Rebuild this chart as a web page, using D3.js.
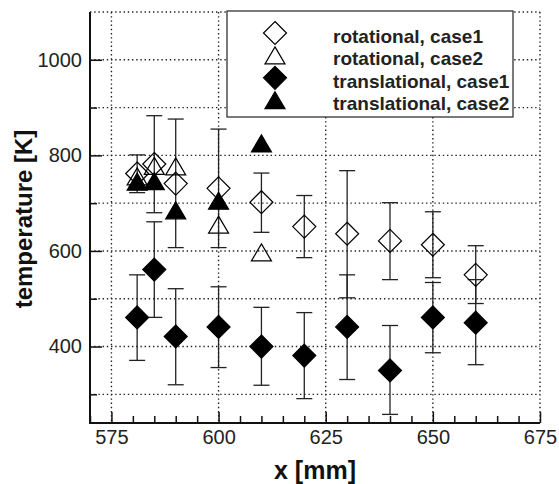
<!DOCTYPE html>
<html>
<head>
<meta charset="utf-8">
<script src="https://cdn.jsdelivr.net/npm/d3@7"></script>
<style>
  html, body { margin: 0; padding: 0; background: #fff; }
  svg { display: block; font-family: "Liberation Sans", Arial, sans-serif; }
  .tick text { fill: #222; }
</style>
</head>
<body>
<div class="chart"></div>
<script>
// x positions [mm]
var xPos = [581, 585, 590, 600, 610, 620, 630, 640, 650, 660];
var xPosCase2 = [581, 585, 590, 600, 610];

// rotational, case1 (with error bars)
var rotCase1 = [762, 782, 741, 731, 702, 651, 636, 621, 613, 550];
var rotCase1Lo = [722, 680, 607, 607, 639, 586, 502, 540, 544, 490];
var rotCase1Hi = [801, 883, 876, 855, 763, 716, 768, 701, 682, 611];

// rotational, case2
var rotCase2 = [756, 778, 777, 655, 597];

// translational, case1 (with error bars)
var transCase1 = [461, 561, 421, 441, 400, 381, 441, 350, 461, 450];
var transCase1Lo = [371, 461, 320, 356, 319, 291, 331, 258, 387, 362];
var transCase1Hi = [550, 661, 521, 525, 482, 471, 550, 444, 534, 540];

// translational, case2
var transCase2 = [745, 746, 685, 705, 825];

// axes
var xTicks = [575, 600, 625, 650, 675];
var yTicks = [400, 600, 800, 1000];
var yMinorTicks = [300, 500, 700, 900, 1100];
var legendLabels = ['rotational, case1', 'rotational, case2', 'translational, case1', 'translational, case2'];

var width = 559, height = 484;
var margin = { left: 90, top: 12, right: 19, bottom: 61 };
var plotW = width - margin.left - margin.right;
var plotH = height - margin.top - margin.bottom;

var x = d3.scaleLinear().domain([570, 675]).range([0, plotW]);
var y = d3.scaleLinear().domain([240, 1100]).range([plotH, 0]);

var svg = d3.select('.chart')
    .append('svg')
    .attr('width', width)
    .attr('height', height);

var g = svg.append('g')
    .attr('transform', 'translate(' + margin.left + ',' + margin.top + ')');

// dotted grid
var grid = g.append('g').attr('class', 'grid');
grid.selectAll('line.gx')
    .data(xTicks)
    .enter()
    .append('line')
    .attr('x1', function (d) { return x(d); })
    .attr('x2', function (d) { return x(d); })
    .attr('y1', 0)
    .attr('y2', plotH);
grid.selectAll('line.gy')
    .data(yTicks.concat(yMinorTicks))
    .enter()
    .append('line')
    .attr('x1', 0)
    .attr('x2', plotW)
    .attr('y1', function (d) { return y(d); })
    .attr('y2', function (d) { return y(d); });
grid.selectAll('line')
    .attr('stroke', '#222')
    .attr('stroke-width', 1.4)
    .attr('stroke-dasharray', '1.4 2.8');

// axes with inward ticks
var xMinor = d3.range(570, 676, 5).filter(function (d) { return xTicks.indexOf(d) < 0; });

var xAxis = g.append('g')
    .attr('transform', 'translate(0,' + plotH + ')')
    .call(d3.axisBottom(x).tickValues(xTicks).tickFormat(d3.format('d')).tickSizeInner(-11).tickSizeOuter(0));
xAxis.select('.domain').remove();
xAxis.selectAll('text').attr('font-size', 20).attr('dy', '0.71em').attr('y', 7);

var xAxisMinor = g.append('g')
    .attr('transform', 'translate(0,' + plotH + ')')
    .call(d3.axisBottom(x).tickValues(xMinor).tickSizeInner(-7).tickSizeOuter(0).tickFormat(''));
xAxisMinor.select('.domain').remove();

var yAxis = g.append('g')
    .call(d3.axisLeft(y).tickValues(yTicks).tickFormat(d3.format('d')).tickSizeInner(-12).tickSizeOuter(0).tickPadding(8));
yAxis.select('.domain').remove();
yAxis.selectAll('text').attr('font-size', 20);

var yAxisMinor = g.append('g')
    .call(d3.axisLeft(y).tickValues(yMinorTicks.slice(0, 4)).tickSizeInner(-7).tickSizeOuter(0).tickFormat(''));
yAxisMinor.select('.domain').remove();

g.selectAll('.tick line').attr('stroke', '#111').attr('stroke-width', 1.5);

// axis lines (left and bottom only)
g.append('line')
    .attr('x1', 0).attr('x2', 0).attr('y1', 0).attr('y2', plotH)
    .attr('stroke', '#111').attr('stroke-width', 2);
g.append('line')
    .attr('x1', -1).attr('x2', plotW).attr('y1', plotH).attr('y2', plotH)
    .attr('stroke', '#111').attr('stroke-width', 2);

// axis titles
svg.append('text')
    .attr('x', margin.left + plotW / 2)
    .attr('y', 479)
    .attr('text-anchor', 'middle')
    .attr('font-size', 25)
    .attr('font-weight', 'bold')
    .attr('fill', '#111')
    .text('x [mm]');

svg.append('text')
    .attr('transform', 'translate(32,' + 219 + ') rotate(-90)')
    .attr('text-anchor', 'middle')
    .attr('font-size', 24)
    .attr('font-weight', 'bold')
    .attr('fill', '#111')
    .text('temperature [K]');

// marker shapes
function diamond(r) {
    return 'M0,' + (-r) + 'L' + r + ',0L0,' + r + 'L' + (-r) + ',0Z';
}
function triangle(w, h) {
    return 'M0,' + (-h / 2) + 'L' + (w / 2) + ',' + (h / 2) + 'L' + (-w / 2) + ',' + (h / 2) + 'Z';
}
var diamondPath = diamond(11.5);
var trianglePath = triangle(20, 17);

function errorBars(xs, lo, hi) {
    var eb = g.append('g').attr('stroke', '#222').attr('stroke-width', 1.3);
    eb.selectAll('line.v')
        .data(xs)
        .enter()
        .append('line')
        .attr('x1', function (d) { return x(d); })
        .attr('x2', function (d) { return x(d); })
        .attr('y1', function (d, i) { return y(lo[i]); })
        .attr('y2', function (d, i) { return y(hi[i]); });
    [lo, hi].forEach(function (arr) {
        eb.selectAll(null)
            .data(xs)
            .enter()
            .append('line')
            .attr('x1', function (d) { return x(d) - 8; })
            .attr('x2', function (d) { return x(d) + 8; })
            .attr('y1', function (d, i) { return y(arr[i]); })
            .attr('y2', function (d, i) { return y(arr[i]); });
    });
}

function markers(xs, vals, shape, filled) {
    g.append('g')
        .selectAll('path')
        .data(xs)
        .enter()
        .append('path')
        .attr('d', shape)
        .attr('transform', function (d, i) {
            return 'translate(' + x(d) + ',' + y(vals[i]) + ')';
        })
        .attr('fill', filled ? '#000' : 'none')
        .attr('stroke', '#000')
        .attr('stroke-width', 1.2);
}

errorBars(xPos, rotCase1Lo, rotCase1Hi);
errorBars(xPos, transCase1Lo, transCase1Hi);
markers(xPos, rotCase1, diamondPath, false);
markers(xPosCase2, rotCase2, trianglePath, false);
markers(xPos, transCase1, diamondPath, true);
markers(xPosCase2, transCase2, trianglePath, true);

// legend
var legend = svg.append('g');
legend.append('rect')
    .attr('x', 227)
    .attr('y', 11)
    .attr('width', 286)
    .attr('height', 106)
    .attr('fill', '#fff')
    .attr('stroke', '#333')
    .attr('stroke-width', 1.3);

var legendShapes = [diamondPath, trianglePath, diamondPath, trianglePath];
var legendFilled = [false, false, true, true];

var rows = legend.selectAll('g.row')
    .data(legendLabels)
    .enter()
    .append('g')
    .attr('class', 'row')
    .attr('transform', function (d, i) { return 'translate(0,' + (43 + i * 22.4) + ')'; });

rows.append('path')
    .attr('d', function (d, i) { return legendShapes[i]; })
    .attr('transform', 'translate(275,-10)')
    .attr('fill', function (d, i) { return legendFilled[i] ? '#000' : '#fff'; })
    .attr('stroke', '#000')
    .attr('stroke-width', 1.2);

rows.append('text')
    .attr('x', 333)
    .attr('y', 0)
    .attr('font-size', 19)
    .attr('font-weight', 'bold')
    .attr('fill', '#222')
    .text(function (d) { return d; });
</script>
</body>
</html>
